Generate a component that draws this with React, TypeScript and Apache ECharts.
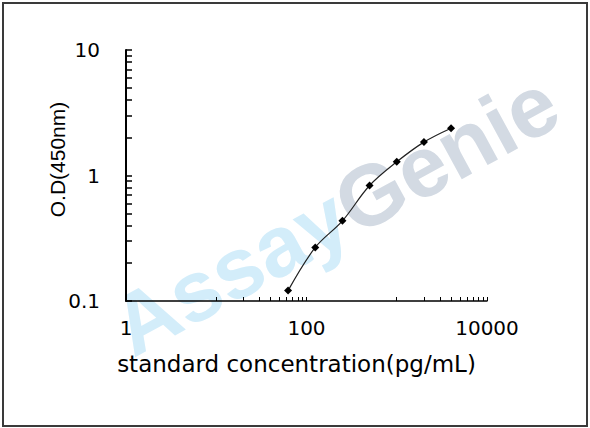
import React, { useEffect, useRef } from 'react';
import * as echarts from 'echarts';

// standard curve points
const concentration = [62.5, 125, 250, 500, 1000, 2000, 4000];
const odValues = [0.121, 0.267, 0.435, 0.832, 1.285, 1.845, 2.38];

// axis labels and ticks
const xLabelValues = [1, 100, 10000];
const xTickValues = [
    10, 20, 30, 40, 50, 60, 70, 80, 90, 100,
    1000, 2000, 3000, 4000, 5000, 6000, 7000, 8000, 9000, 10000,
];
const yLabelValues = [0.1, 1, 10];
const yTickValues = [
    0.1, 0.2, 0.3, 0.4, 0.5, 0.6, 0.7, 0.8, 0.9,
    1, 2, 3, 4, 5, 6, 7, 8, 9, 10,
];

const labelFont = {
    fontFamily: 'DejaVu Sans',
    fontSize: 20,
    color: '#000',
    formatter: (v: number) => String(v),
};

const App: React.FC = () => {
    const chartRef = useRef<HTMLDivElement>(null);

    useEffect(() => {
        if (!chartRef.current) return;
        const chart = echarts.init(chartRef.current, undefined, { renderer: 'svg' });

        chart.setOption({
            animation: false,
            backgroundColor: '#fff',
            grid: { left: 126, right: 103, top: 50, bottom: 127 },
            graphic: [
                {
                    type: 'rect',
                    z: 0,
                    shape: { x: 3, y: 3, width: 584, height: 423 },
                    style: { fill: 'none', stroke: '#3a3a3a', lineWidth: 2 },
                },
                {
                    type: 'text',
                    z: 0,
                    x: 335,
                    y: 214,
                    rotation: 0.5,
                    style: {
                        text: '{a|Assay}{b|Genie}',
                        align: 'center',
                        verticalAlign: 'middle',
                        rich: {
                            a: {
                                fontFamily: 'Liberation Sans',
                                fontWeight: 'bold',
                                fontSize: 86,
                                fill: '#d3edfa',
                            },
                            b: {
                                fontFamily: 'Liberation Sans',
                                fontWeight: 'bold',
                                fontSize: 86,
                                fill: '#d3dae3',
                            },
                        },
                    },
                },
            ],
            xAxis: {
                type: 'log',
                logBase: 10,
                min: 1,
                max: 10000,
                name: 'standard concentration(pg/mL)',
                nameLocation: 'middle',
                nameGap: 51,
                nameMoveOverlap: false,
                nameTextStyle: {
                    fontFamily: 'DejaVu Sans',
                    fontSize: 23,
                    color: '#000',
                    padding: [0, 20, 0, 0],
                },
                axisLine: { lineStyle: { color: '#000', width: 1.5 } },
                axisTick: {
                    inside: true,
                    length: 4,
                    customValues: xTickValues,
                    lineStyle: { color: '#000', width: 1 },
                },
                axisLabel: { ...labelFont, margin: 17, customValues: xLabelValues },
                splitLine: { show: false },
            },
            yAxis: {
                type: 'log',
                logBase: 10,
                min: 0.1,
                max: 10,
                name: 'O.D(450nm)',
                nameLocation: 'middle',
                nameGap: 58,
                nameMoveOverlap: false,
                nameTextStyle: {
                    fontFamily: 'Liberation Sans',
                    fontSize: 21,
                    color: '#000',
                    padding: [0, 0, 0, 32],
                },
                axisLine: { lineStyle: { color: '#000', width: 2 } },
                axisTick: {
                    inside: true,
                    length: 6,
                    customValues: yTickValues,
                    lineStyle: { color: '#000', width: 1.5 },
                },
                axisLabel: { ...labelFont, margin: 26, customValues: yLabelValues },
                splitLine: { show: false },
            },
            series: [
                {
                    type: 'line',
                    data: concentration.map((c, i) => [c, odValues[i]]),
                    smooth: 0.35,
                    symbol: 'diamond',
                    symbolSize: 8,
                    itemStyle: { color: '#000' },
                    lineStyle: { color: '#222', width: 1.2 },
                    z: 3,
                },
            ],
        });

        return () => chart.dispose();
    }, []);

    return (
        <div
            ref={chartRef}
            style={{ position: 'absolute', left: 0, top: 0, width: 590, height: 428 }}
        />
    );
};

export default App;
